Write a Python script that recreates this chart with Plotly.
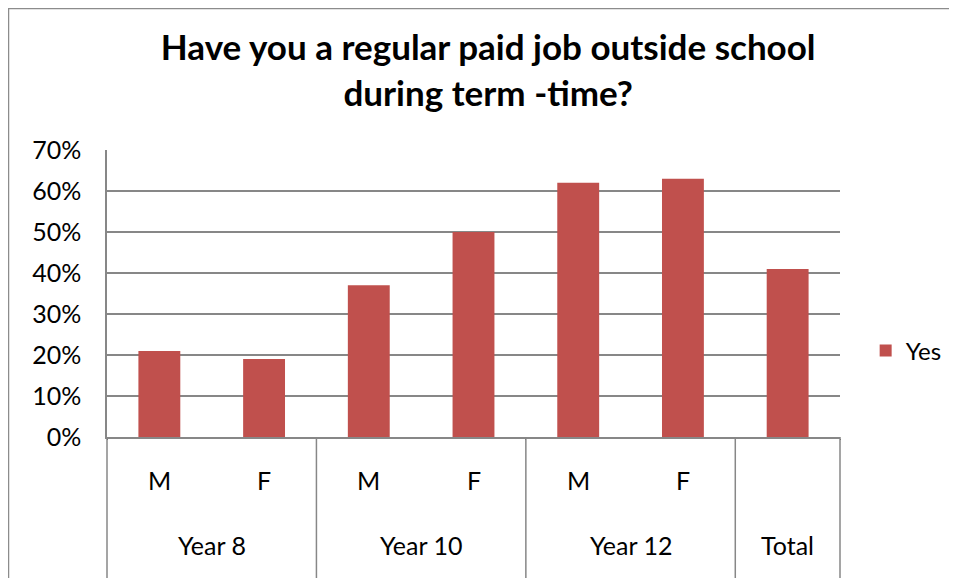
import plotly.graph_objects as go

groups = ["Year 8", "Year 8", "Year 10", "Year 10", "Year 12", "Year 12", "Total"]
sexes = ["M", "F", "M", "F", "M", "F", ""]
yes_values = [0.21, 0.19, 0.37, 0.50, 0.62, 0.63, 0.41]
y_ticks = [0, 0.1, 0.2, 0.3, 0.4, 0.5, 0.6, 0.7]

BAR = "#C0504D"
GRID = "#878787"
FONT = "Lato, Open Sans, sans-serif"

# figure geometry (page has an 8px body margin)
W, H = 949, 570
ML, MR, MT, MB = 99, 117, 142, 141
PW, PH = W - ML - MR, H - MT - MB

fig = go.Figure()
fig.add_trace(go.Bar(
    x=[groups, [s if s else " " for s in sexes]], y=yes_values, name="Yes",
    marker=dict(color=BAR, line=dict(width=0)),
    width=0.4,
))

fig.update_layout(
    width=W, height=H,
    margin=dict(l=ML, r=MR, t=MT, b=MB, autoexpand=False),
    paper_bgcolor="white", plot_bgcolor="white",
    font=dict(family=FONT, size=25, color="black"),
    title=dict(
        text="<b>Have you a regular paid job outside school<br>during term -time?</b>",
        x=0.506, xanchor="center", y=0.908, yanchor="top", yref="container",
        font=dict(size=35, family=FONT, color="black"),
    ),
    showlegend=True,
    legend=dict(x=1.035, y=0.30, xanchor="left", yanchor="middle",
                font=dict(size=24), itemwidth=30, bgcolor="rgba(0,0,0,0)"),
)
fig.update_yaxes(
    range=[0, 0.7], tickvals=y_ticks, tickformat=".0%",
    showgrid=True, gridcolor=GRID, gridwidth=1.5,
    showline=True, linecolor=GRID, linewidth=1.5,
    ticks="", ticklabelstandoff=19, zeroline=False,
)
fig.update_xaxes(
    type="multicategory",
    showline=True, linecolor=GRID, linewidth=1.5,
    showticklabels=False, ticks="", showgrid=False,
)

n = len(groups)
y_bottom = -MB / PH
# inner category labels
for i, s in enumerate(sexes):
    if s:
        fig.add_annotation(text=s, xref="paper", yref="paper",
                           x=(i + 0.5) / n, y=-43 / PH, showarrow=False,
                           xanchor="center", yanchor="middle", font=dict(size=25))
# group labels and dividers
bounds = [0]
for i in range(1, n + 1):
    if i == n or groups[i] != groups[i - 1]:
        bounds.append(i)
for a, b in zip(bounds[:-1], bounds[1:]):
    fig.add_annotation(text=groups[a], xref="paper", yref="paper",
                       x=(a + b) / 2 / n, y=-108 / PH, showarrow=False,
                       xanchor="center", yanchor="middle", font=dict(size=25))
for bnd in bounds:
    fig.add_shape(type="line", xref="paper", yref="paper",
                  x0=bnd / n, x1=bnd / n, y0=0, y1=y_bottom - 0.05,
                  line=dict(color=GRID, width=1.5))

# outer chart border
fig.add_shape(type="rect", xref="paper", yref="paper",
              x0=(8.5 - 107) / PW, x1=(W + 50) / PW,
              y0=y_bottom - 0.2, y1=(437 - 8.5) / PH,
              line=dict(color="#8c8c8c", width=1.5), fillcolor="rgba(0,0,0,0)", layer="below")

fig.write_html("out.html")
